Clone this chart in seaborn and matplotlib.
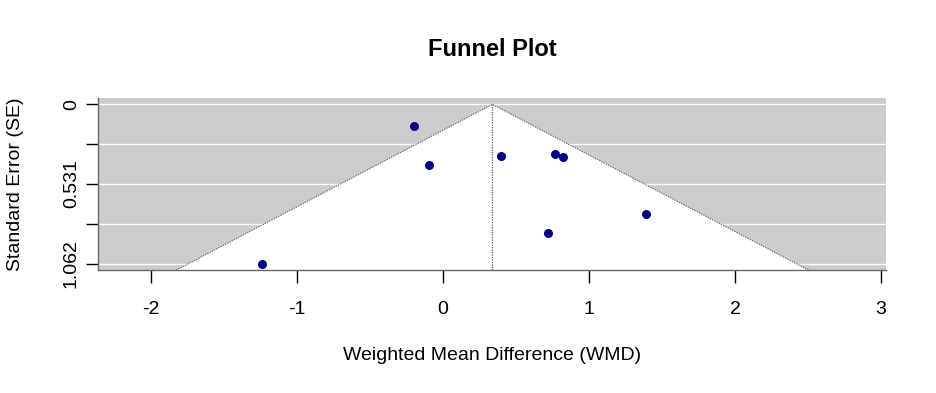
import numpy as np
import pandas as pd
import matplotlib
matplotlib.use("Agg")
import matplotlib.pyplot as plt
import seaborn as sns

# effect sizes (WMD) and standard errors
wmd = [-0.199, -0.098, -1.238, 0.399, 0.769, 0.824, 1.393, 0.721]
se = [0.146, 0.405, 1.062, 0.345, 0.330, 0.352, 0.730, 0.857]
estimate = 0.338
y_ticks = [0, 0.2655, 0.531, 0.7965, 1.062]
y_tick_labels = ["0", "", "0.531", "", "1.062"]
x_ticks = [-2, -1, 0, 1, 2, 3]

df = pd.DataFrame({"wmd": wmd, "se": se})

plt.rcParams["font.family"] = ["Liberation Sans", "DejaVu Sans"]

fig = plt.figure(figsize=(9.37, 3.93), dpi=100)
ax = fig.add_axes([98 / 937, 1 - 270 / 393, (886 - 98) / 937, (270 - 98) / 393])

ylo, yhi = 1.062 * 1.04, -1.062 * 0.04
ax.set_xlim(-2.363, 3.034)
ax.set_ylim(ylo, yhi)

# grey background with white grid lines
ax.set_facecolor("#cccccc")
for yt in y_ticks:
    ax.axhline(yt, color="white", lw=1, zorder=1)

# pseudo confidence region
ax.fill([estimate - 1.96 * ylo, estimate, estimate + 1.96 * ylo],
        [ylo, 0, ylo], color="white", zorder=2, lw=0)
ax.plot([estimate - 1.96 * ylo, estimate, estimate + 1.96 * ylo],
        [ylo, 0, ylo], color="#666666", ls=(0, (1, 1)), lw=0.9, zorder=3)
ax.plot([estimate, estimate], [0, ylo], color="#555555", ls=(0, (1, 1)), lw=0.9, zorder=3)

sns.scatterplot(data=df, x="wmd", y="se", color="#000080", s=42, linewidth=0,
                ax=ax, zorder=4)

ax.set_xticks(x_ticks)
ax.set_xticklabels([str(v) for v in x_ticks], fontsize=14)
ax.set_yticks(y_ticks)
ax.set_yticklabels(y_tick_labels, fontsize=14, rotation=90, va="center")
ax.tick_params(axis="both", length=9, width=1, color="black", pad=4)
ax.tick_params(axis="x", pad=13)

for side in ["top", "right"]:
    ax.spines[side].set_visible(False)
for side in ["left", "bottom"]:
    ax.spines[side].set_color("#666666")
    ax.spines[side].set_linewidth(1)

ax.set_xlabel("")
ax.set_ylabel("")
fig.text(492 / 937, 1 - 355 / 393, "Weighted Mean Difference (WMD)", fontsize=14,
         ha="center", va="center")
fig.text(16 / 937, 1 - 184 / 393, "Standard Error (SE)", fontsize=14,
         ha="center", va="center", rotation=90)
fig.text(492 / 937, 1 - 50 / 393, "Funnel Plot", fontsize=17, fontweight="bold",
         ha="center", va="center")

fig.savefig("out.png", dpi=100)
